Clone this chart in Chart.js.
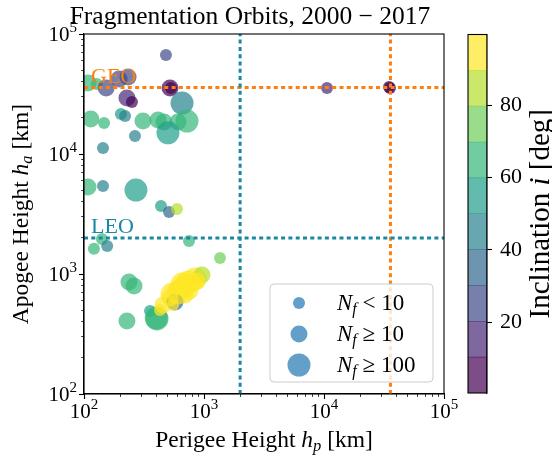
<!DOCTYPE html>
<html>
<head>
<meta charset="utf-8">
<script src="https://cdn.jsdelivr.net/npm/chart.js@4.4.1/dist/chart.umd.min.js"></script>
<style>
  html, body { margin: 0; padding: 0; background: #ffffff; }
  #wrap { position: relative; width: 552px; height: 462px; overflow: hidden; }
  #main { position: absolute; left: 0; top: 0; }
  #cbar { position: absolute; left: 444px; top: 0; }
</style>
</head>
<body>
<div id="wrap">
  <canvas id="main" width="552" height="462"></canvas>
  <canvas id="cbar" width="108" height="462"></canvas>
</div>
<script>
// Fragmentation events 2000-2017: orbit heights [km], inclination [deg], number of fragments
const perigeeKm = [108, 128, 153, 196, 233, 228, 251, 521, 531, 482, 656, 10600, 34800, 35500,
                   114, 147, 203, 220, 310, 414, 464, 607, 722, 501, 266, 144,
                   108, 144, 271, 438, 511, 596, 141, 121, 156, 750, 1360,
                   237, 261, 228, 355, 406, 400,
                   455, 541, 596, 656, 695, 764, 841, 962, 573, 552, 430, 736,
                   631, 708, 810, 875, 521, 607];
const apogeeKm = [39000, 38300, 35500, 42200, 43800, 29300, 27100, 35500, 35500, 66800, 26600, 35500, 36200, 35500,
                  19600, 18100, 21500, 20700, 18800, 19200, 18500, 18500, 18800, 15000, 14100, 11200,
                  5310, 5410, 5010, 3690, 3290, 3480, 1960, 1620, 1710, 1880, 1360,
                  858, 794, 406, 492, 422, 430,
                  552, 681, 750, 825, 668, 722, 908, 981, 584, 552, 501, 858,
                  779, 810, 841, 875, 631, 695];
const inclinationDeg = [65, 65, 25, 28, 27, 15, 4, 5, 2, 25, 45, 14, 5, 1,
                        65, 65, 50, 45, 65, 66, 67, 66, 67, 55, 46, 45,
                        64, 45, 55, 55, 36, 85, 65, 65, 43, 64, 74,
                        65, 66, 65, 52, 66, 67,
                        97, 98, 98, 98, 97, 98, 98, 88, 38, 96, 97, 98,
                        98, 97, 98, 99, 97, 98];
const fragmentCount = [30, 6, 40, 25, 20, 35, 5, 45, 8, 4, 150, 3, 4, 6,
                       25, 7, 5, 6, 20, 30, 40, 25, 180, 120, 5, 4,
                       30, 5, 250, 6, 4, 3, 5, 7, 6, 4, 5,
                       20, 35, 15, 6, 300, 220,
                       40, 200, 30, 150, 25, 20, 110, 15, 30, 5, 4, 130,
                       35, 140, 25, 30, 45, 160];

// Orbit regime boundaries [km]
const leoLimitKm = 2000;
const geoAltitudeKm = 35786;

// Axis ticks
const axisRange = [100, 100000];
const axisDecades = [100, 1000, 10000, 100000];
const inclinationRange = [0.5, 99.5];
const inclinationTicks = [20, 40, 60, 80];

// Fragment-count classes shown in the legend
const sizeClassLimits = [0, 10, 100];
const sizeClassRelations = ['<', '\u2265', '\u2265'];
const sizeClassValues = [10, 10, 100];

// 10-level viridis palette for the inclination colour bar
const viridis10 = ['#440154', '#482878', '#3e4989', '#31688e', '#26828e',
                   '#1f9e89', '#35b779', '#6ece58', '#b5de2b', '#fde725'];

const SERIF = "'Liberation Serif', 'Times New Roman', serif";
const ALPHA = 0.7;
const GEO_COLOR = '#ff7f0e';
const LEO_COLOR = '#1a87a3';
const CLASS_RADII = [6, 8.5, 11.5];
const LABEL_SIZE = 23.5;
const SUB_SIZE = 16.5;

function withAlpha(hex, a) {
  const n = parseInt(hex.slice(1), 16);
  return `rgba(${(n >> 16) & 255}, ${(n >> 8) & 255}, ${n & 255}, ${a})`;
}
function bandIndex(incl) {
  const [lo, hi] = inclinationRange;
  const k = Math.floor((incl - lo) / (hi - lo) * viridis10.length);
  return Math.max(0, Math.min(viridis10.length - 1, k));
}
function sizeClass(nf) {
  let c = 0;
  sizeClassLimits.forEach((lim, i) => { if (nf >= lim) c = i; });
  return c;
}
function font(size, style) { return `${style || 'normal'} ${size}px ${SERIF}`; }

// Draws a row of text runs (different fonts / baseline shifts) from a baseline point
function richWidth(ctx, runs) {
  let w = 0;
  for (const r of runs) { ctx.font = r.font; w += ctx.measureText(r.text).width; }
  return w;
}
function drawRich(ctx, runs, x, y, align, color) {
  const w = richWidth(ctx, runs);
  let cx = align === 'center' ? x - w / 2 : align === 'right' ? x - w : x;
  ctx.textAlign = 'left';
  ctx.textBaseline = 'alphabetic';
  ctx.fillStyle = color || '#000';
  for (const r of runs) {
    ctx.font = r.font;
    ctx.fillText(r.text, cx, y + (r.dy || 0));
    cx += ctx.measureText(r.text).width;
  }
}
function powerRuns(v) {
  const e = Math.round(Math.log10(v));
  return [{ text: '10', font: font(21) }, { text: String(e), font: font(15), dy: -9 }];
}

function logTicks() {
  const ticks = [];
  for (let d = axisRange[0]; d < axisRange[1]; d *= 10) {
    for (let m = 1; m < 10; m++) ticks.push({ value: m * d, major: m === 1 });
  }
  ticks.push({ value: axisRange[1], major: true });
  return ticks;
}
const isDecade = v => Math.abs(Math.log10(v) - Math.round(Math.log10(v))) < 1e-9;

// Scatter data
const points = perigeeKm.map((hp, i) => ({ x: hp, y: apogeeKm[i] }));
const pointColors = inclinationDeg.map(i => withAlpha(viridis10[bandIndex(i)], ALPHA));
const pointRadii = fragmentCount.map(n => CLASS_RADII[sizeClass(n)]);

function refLine(x0, y0, x1, y1, color) {
  return {
    type: 'line', data: [{ x: x0, y: y0 }, { x: x1, y: y1 }],
    borderColor: color, borderWidth: 3, borderDash: [4, 3.3], borderCapStyle: 'butt',
    pointRadius: 0, fill: false, order: 0, clip: 0
  };
}

const annotationsPlugin = {
  id: 'annotations',
  afterDraw(chart) {
    const { ctx, chartArea: a, scales: { x, y } } = chart;
    ctx.save();

    // axes frame
    ctx.strokeStyle = '#000';
    ctx.lineWidth = 1.1;
    ctx.strokeRect(a.left, a.top, a.right - a.left, a.bottom - a.top);

    // decade tick labels
    for (const v of axisDecades) {
      drawRich(ctx, powerRuns(v), x.getPixelForValue(v), a.bottom + 24, 'center');
      drawRich(ctx, powerRuns(v), a.left - 7, y.getPixelForValue(v) + 7, 'right');
    }

    // regime labels
    drawRich(ctx, [{ text: 'GEO', font: font(22) }], a.left + 7, y.getPixelForValue(geoAltitudeKm) - 5, 'left', GEO_COLOR);
    drawRich(ctx, [{ text: 'LEO', font: font(22) }], a.left + 7, y.getPixelForValue(leoLimitKm) - 5, 'left', LEO_COLOR);

    // title
    drawRich(ctx, [{ text: 'Fragmentation Orbits, 2000 \u2212 2017', font: font(25.5) }], 250, 24, 'center');

    // axis titles
    drawRich(ctx, [
      { text: 'Perigee Height ', font: font(LABEL_SIZE) },
      { text: 'h', font: font(LABEL_SIZE, 'italic') },
      { text: 'p', font: font(SUB_SIZE, 'italic'), dy: 4 },
      { text: ' [km]', font: font(LABEL_SIZE) }
    ], (a.left + a.right) / 2, 447, 'center');

    ctx.save();
    ctx.translate(28, (a.top + a.bottom) / 2);
    ctx.rotate(-Math.PI / 2);
    drawRich(ctx, [
      { text: 'Apogee Height ', font: font(LABEL_SIZE) },
      { text: 'h', font: font(LABEL_SIZE, 'italic') },
      { text: 'a', font: font(SUB_SIZE, 'italic'), dy: 4 },
      { text: ' [km]', font: font(LABEL_SIZE) }
    ], 0, 0, 'center');
    ctx.restore();

    // legend (lower right)
    const bw = 163, bh = 98;
    const bx = a.right - 11 - bw, by = a.bottom - 12 - bh;
    const rr = 4;
    ctx.beginPath();
    ctx.moveTo(bx + rr, by);
    ctx.arcTo(bx + bw, by, bx + bw, by + bh, rr);
    ctx.arcTo(bx + bw, by + bh, bx, by + bh, rr);
    ctx.arcTo(bx, by + bh, bx, by, rr);
    ctx.arcTo(bx, by, bx + bw, by, rr);
    ctx.closePath();
    ctx.fillStyle = 'rgba(255,255,255,0.8)';
    ctx.fill();
    ctx.strokeStyle = '#cccccc';
    ctx.lineWidth = 1;
    ctx.stroke();
    sizeClassLimits.forEach((lim, i) => {
      const cy = by + 19 + i * 31;
      ctx.beginPath();
      ctx.arc(bx + 29, cy, CLASS_RADII[i], 0, Math.PI * 2);
      ctx.fillStyle = withAlpha('#1f77b4', ALPHA);
      ctx.fill();
      drawRich(ctx, [
        { text: 'N', font: font(23, 'italic') },
        { text: 'f', font: font(16, 'italic'), dy: 4 },
        { text: ' ' + sizeClassRelations[i] + ' ' + sizeClassValues[i], font: font(23) }
      ], bx + 67, cy + 7, 'left');
    });

    ctx.restore();
  }
};

new Chart(document.getElementById('main'), {
  type: 'scatter',
  data: {
    datasets: [
      refLine(leoLimitKm, axisRange[0], leoLimitKm, axisRange[1], LEO_COLOR),
      refLine(axisRange[0], leoLimitKm, axisRange[1], leoLimitKm, LEO_COLOR),
      refLine(geoAltitudeKm, axisRange[0], geoAltitudeKm, axisRange[1], GEO_COLOR),
      refLine(axisRange[0], geoAltitudeKm, axisRange[1], geoAltitudeKm, GEO_COLOR),
      {
        data: points, backgroundColor: pointColors, pointRadius: pointRadii,
        pointBorderWidth: 0, borderWidth: 0, order: 1, clip: 0
      }
    ]
  },
  options: {
    responsive: false, animation: false, events: [],
    layout: { padding: { left: 0, right: 108, top: 34, bottom: 28 } },
    plugins: { legend: { display: false }, tooltip: { enabled: false }, title: { display: false } },
    scales: {
      x: {
        type: 'logarithmic', min: axisRange[0], max: axisRange[1],
        afterBuildTicks: s => { s.ticks = logTicks(); },
        afterFit: s => { s.height = 40; },
        ticks: { display: false, autoSkip: false },
        grid: {
          drawOnChartArea: false, tickLength: 5, tickColor: '#000',
          tickWidth: c => (isDecade(c.tick.value) ? 1.1 : 0.8),
          tickBorderDash: c => (isDecade(c.tick.value) ? [] : [2.8, 30])
        },
        border: { color: '#000', width: 1.1 }
      },
      y: {
        type: 'logarithmic', min: axisRange[0], max: axisRange[1],
        afterBuildTicks: s => { s.ticks = logTicks(); },
        afterFit: s => { s.width = 84; },
        ticks: { display: false, autoSkip: false },
        grid: {
          drawOnChartArea: false, tickLength: 5, tickColor: '#000',
          tickWidth: c => (isDecade(c.tick.value) ? 1.1 : 0.8),
          tickBorderDash: c => (isDecade(c.tick.value) ? [] : [0, 2.2, 2.8, 30])
        },
        border: { color: '#000', width: 1.1 }
      }
    }
  },
  plugins: [annotationsPlugin]
});

// Colour bar: ten inclination bands as floating bars on a linear scale
const bandStep = (inclinationRange[1] - inclinationRange[0]) / viridis10.length;
const colorbarFrame = {
  id: 'colorbarFrame',
  afterDraw(chart) {
    const { ctx, chartArea: a } = chart;
    ctx.save();
    ctx.strokeStyle = '#000';
    ctx.lineWidth = 1.1;
    ctx.strokeRect(a.left, a.top, a.right - a.left, a.bottom - a.top);
    ctx.translate(105, (a.top + a.bottom) / 2);
    ctx.rotate(-Math.PI / 2);
    drawRich(ctx, [
      { text: 'Inclination ', font: font(29) },
      { text: 'i', font: font(29, 'italic') },
      { text: ' [deg]', font: font(29) }
    ], 0, 0, 'center');
    ctx.restore();
  }
};

new Chart(document.getElementById('cbar'), {
  type: 'bar',
  data: {
    labels: [''],
    datasets: viridis10.map((c, i) => ({
      data: [[inclinationRange[0] + i * bandStep, inclinationRange[0] + (i + 1) * bandStep]],
      backgroundColor: withAlpha(c, ALPHA), borderWidth: 0,
      barPercentage: 1, categoryPercentage: 1, grouped: false
    }))
  },
  options: {
    responsive: false, animation: false, events: [],
    layout: { padding: { left: 24, right: 0, top: 34.5, bottom: 69 } },
    plugins: { legend: { display: false }, tooltip: { enabled: false } },
    scales: {
      x: { display: false },
      y: {
        position: 'right', min: inclinationRange[0], max: inclinationRange[1],
        afterBuildTicks: s => { s.ticks = inclinationTicks.map(v => ({ value: v })); },
        afterFit: s => { s.width = 65; },
        ticks: { color: '#000', padding: 8, font: { family: SERIF, size: 22 } },
        grid: { drawOnChartArea: false, tickLength: 5, tickColor: '#000', tickWidth: 1.1 },
        border: { color: '#000', width: 1.1 }
      }
    }
  },
  plugins: [colorbarFrame]
});
</script>
</body>
</html>
